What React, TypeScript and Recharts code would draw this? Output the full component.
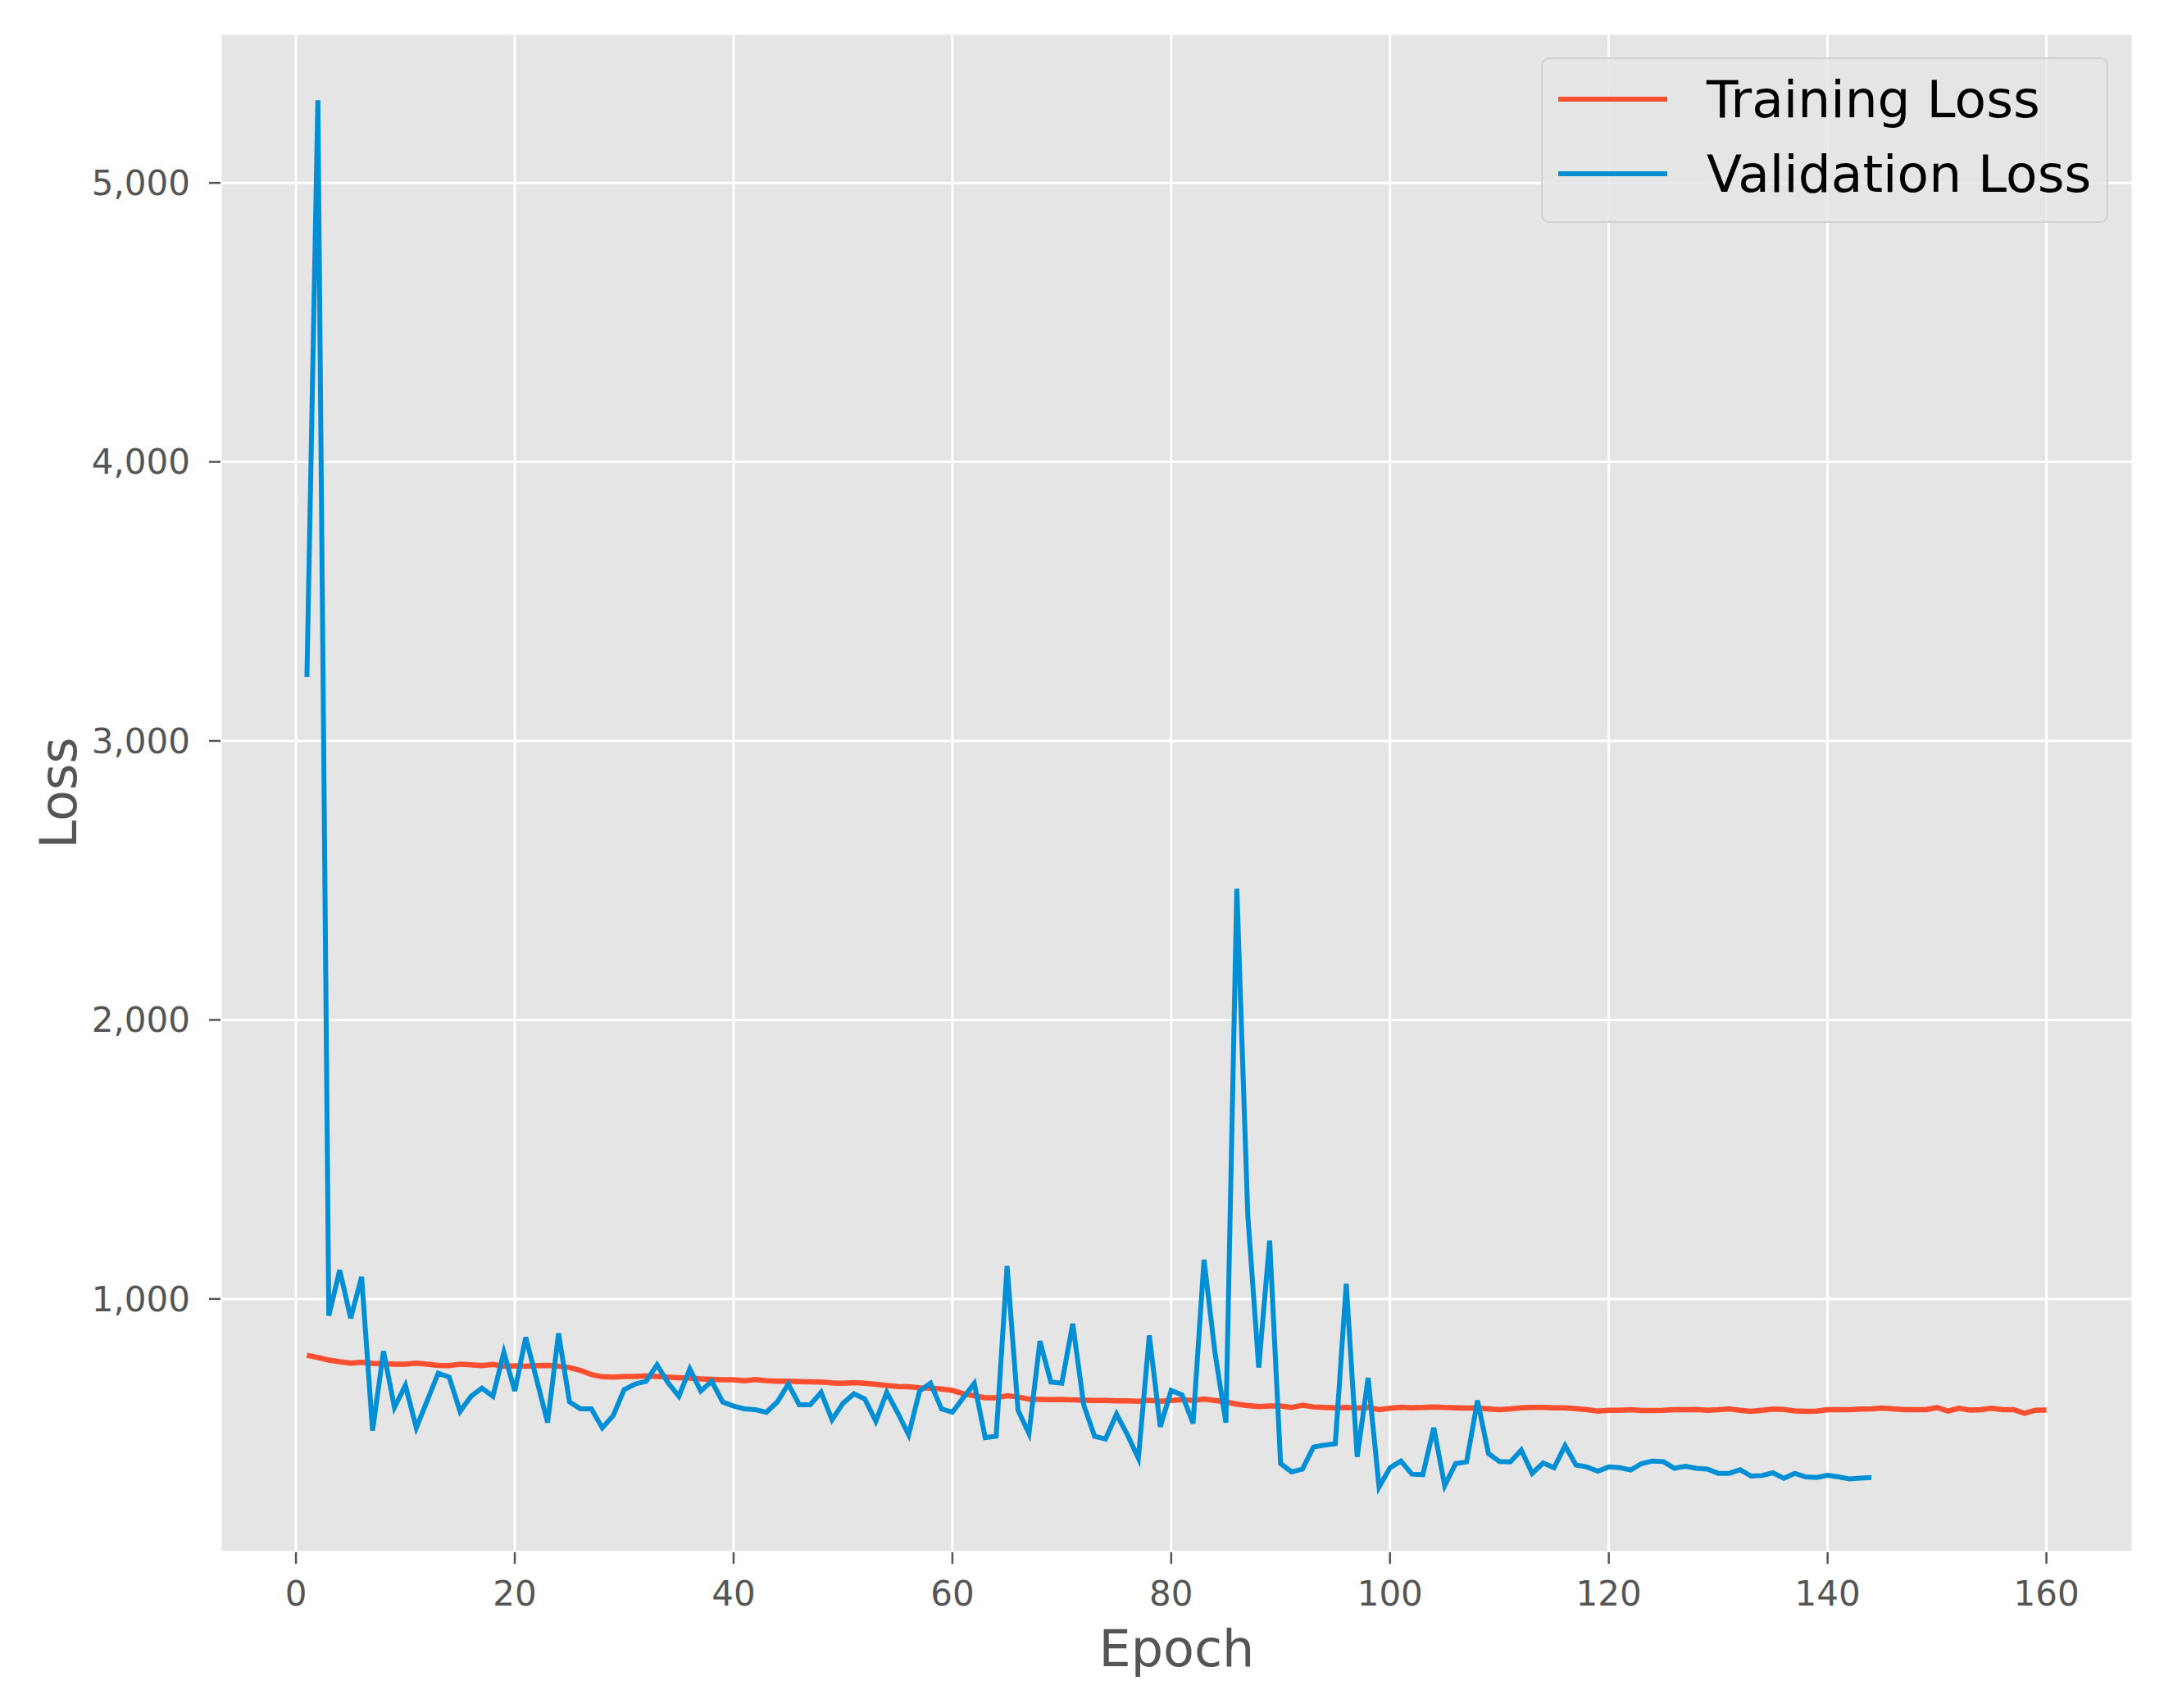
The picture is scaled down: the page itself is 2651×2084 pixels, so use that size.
import React from "react";
import { LineChart, Line, XAxis, YAxis, CartesianGrid, Legend, Label } from "recharts";

// loss per epoch
const trainingLoss = [
  798, 790, 781, 775, 770, 773, 769, 768, 766, 766,
  770, 766, 762, 761, 766, 764, 761, 765, 759, 760,
  759, 761, 762, 759, 754, 744, 729, 721, 720, 722,
  722, 724, 722, 720, 718, 716, 713, 712, 710, 710,
  707, 711, 707, 705, 705, 704, 703, 702, 699, 698,
  700, 698, 694, 690, 686, 685, 682, 680, 677, 672,
  660, 653, 646, 646, 653, 649, 641, 640, 639, 640,
  638, 637, 636, 636, 635, 635, 633, 637, 633, 636,
  639, 636, 641, 636, 631, 623, 618, 614, 616, 616,
  611, 619, 613, 611, 610, 611, 609, 611, 603, 608,
  612, 610, 611, 613, 611, 610, 609, 609, 606, 603,
  606, 610, 611, 611, 610, 610, 607, 603, 598, 601,
  601, 603, 600, 600, 601, 603, 603, 604, 601, 603,
  606, 601, 597, 601, 605, 604, 599, 597, 598, 603,
  603, 603, 605, 606, 609, 606, 603, 603, 603, 611,
  598, 608, 602, 603, 608, 603, 603, 590, 601, 602,
];

const validationLoss = [
  3229, 5296, 940, 1103, 931, 1079, 528, 813, 611, 690,
  538, 636, 734, 720, 597, 651, 680, 651, 808, 670,
  862, 710, 557, 877, 631, 606, 606, 538, 582, 675,
  695, 705, 764, 700, 651, 749, 670, 705, 631, 616,
  606, 603, 594, 631, 695, 621, 621, 665, 567, 626,
  660, 641, 562, 665, 592, 513, 670, 698, 606, 594,
  646, 697, 503, 508, 1118, 601, 518, 849, 702, 698,
  911, 621, 508, 498, 587, 513, 429, 869, 542, 672,
  656, 554, 1140, 808, 557, 2470, 1300, 754, 1209, 410,
  380, 390, 469, 476, 481, 1054, 434, 717, 326, 395,
  419, 372, 370, 538, 331, 410, 416, 636, 446, 417,
  416, 458, 375, 412, 395, 474, 405, 398, 383, 398,
  395, 387, 410, 419, 417, 393, 400, 393, 390, 375,
  375, 388, 365, 367, 377, 357, 375, 362, 360, 368,
  362, 355, 358, 360,
];

const epochs = trainingLoss.map((_, i) => i + 1);
const xTicks = [0, 20, 40, 60, 80, 100, 120, 140, 160];
const yTicks = [1000, 2000, 3000, 4000, 5000];

const seriesNames = ["Training Loss", "Validation Loss"];
const seriesColors = ["#fc4f30", "#008fd5"];

const data = epochs.map((epoch, i) => ({
  epoch,
  train: trainingLoss[i],
  val: i < validationLoss.length ? validationLoss[i] : undefined,
}));

const FONT = "'DejaVu Sans', sans-serif";

function LegendBox() {
  return (
    <div
      style={{
        width: 692,
        height: 202,
        boxSizing: "border-box",
        border: "2px solid #d0d0d0",
        borderRadius: 10,
        background: "rgba(229,229,229,0.8)",
        position: "relative",
        fontFamily: FONT,
      }}
    >
      {seriesNames.map((name, i) => (
        <div
          key={name}
          style={{
            position: "absolute",
            left: 19,
            top: 49 + i * 91 - 40,
            height: 80,
            display: "flex",
            alignItems: "center",
          }}
        >
          <div style={{ width: 133, height: 6, background: seriesColors[i] }} />
          <span style={{ marginLeft: 48, fontSize: 63, color: "#000", whiteSpace: "nowrap" }}>{name}</span>
        </div>
      ))}
    </div>
  );
}

export default function App() {
  return (
    <div style={{ position: "absolute", left: 0, top: 0, background: "#fff" }}>
      <LineChart width={2651} height={2084} data={data} margin={{ top: 41, right: 49, bottom: 0, left: 0 }}>
        <CartesianGrid fill="#E5E5E5" stroke="#ffffff" strokeWidth={3} />
        <XAxis
          dataKey="epoch"
          type="number"
          domain={[-6.9, 167.9]}
          ticks={xTicks}
          allowDataOverflow
          height={190}
          axisLine={false}
          tickSize={14}
          tickMargin={21}
          tickLine={{ stroke: "#555555", strokeWidth: 2.5 }}
          tick={{ fill: "#555555", fontSize: 42, fontFamily: FONT }}
        >
          <Label
            content={({ viewBox }: any) => (
              <text
                x={viewBox.x + viewBox.width / 2}
                y={2033}
                textAnchor="middle"
                fill="#555555"
                fontSize={62}
                fontFamily={FONT}
              >
                Epoch
              </text>
            )}
          />
        </XAxis>
        <YAxis
          type="number"
          domain={[92, 5535]}
          ticks={yTicks}
          allowDataOverflow
          width={269}
          axisLine={false}
          tickSize={14}
          tickMargin={23}
          tickLine={{ stroke: "#555555", strokeWidth: 2.5 }}
          tick={{ fill: "#555555", fontSize: 42, fontFamily: FONT }}
          tickFormatter={(v: number) => v.toLocaleString("en-US")}
        >
          <Label
            content={({ viewBox }: any) => {
              const cy = viewBox.y + viewBox.height / 2;
              return (
                <text
                  x={93}
                  y={cy}
                  transform={`rotate(-90, 93, ${cy})`}
                  textAnchor="middle"
                  fill="#555555"
                  fontSize={62}
                  fontFamily={FONT}
                >
                  Loss
                </text>
              );
            }}
          />
        </YAxis>
        <Legend
          layout="horizontal"
          align="center"
          verticalAlign="middle"
          content={() => <LegendBox />}
          wrapperStyle={{ left: 1880, top: 70, width: 692, height: 202 }}
        />
        <Line
          dataKey="train"
          name={seriesNames[0]}
          stroke={seriesColors[0]}
          strokeWidth={6.5}
          dot={false}
          isAnimationActive={false}
        />
        <Line
          dataKey="val"
          name={seriesNames[1]}
          stroke={seriesColors[1]}
          strokeWidth={6}
          dot={false}
          isAnimationActive={false}
        />
      </LineChart>
    </div>
  );
}
